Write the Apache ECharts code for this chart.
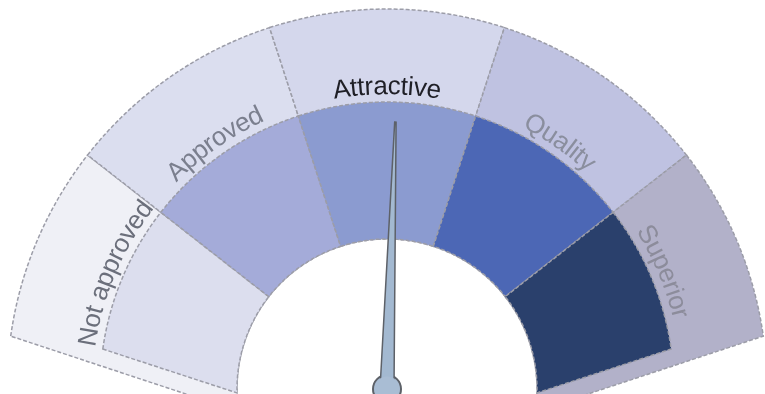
<!DOCTYPE html>
<html>
<head>
<meta charset="utf-8">
<script src="https://cdn.jsdelivr.net/npm/echarts@6/dist/echarts.min.js"></script>
<style>
  html, body { margin: 0; padding: 0; background: #ffffff; }
  #chart { width: 765px; height: 394px; }
</style>
</head>
<body>
<div id="chart"></div>
<script>
// ---- data ----
const categories = ['Not approved', 'Approved', 'Attractive', 'Quality', 'Superior'];
const bandSpans = [30, 34, 36, 34, 30];   // angular extent (deg) of each rating band
const needleValue = [51];                 // needle position on a 0-100 scale
const gaugeMin = 0;
const gaugeMax = 100;

// ---- geometry & styles (not data) ----
const CENTER = [387, 389];
const R_HOLE = 150, R_MID = 287, R_OUT = 380, R_TEXT = 302;
const START_ANGLE = 172;                   // angle of the first band's outer corner
const CAP_SKEW = { outer: 16.6, inner: 9.5 }; // tilt of the end caps (deg, at hole radius)
const outerColors = ['#eff0f6', '#dbdeef', '#d4d7ec', '#bfc2e1', '#b2b1c9'];
const innerColors = ['#dcdeee', '#a4abd9', '#8b9bd0', '#4c67b5', '#2a406c'];
const labelColors = ['#6b6f7b', '#7b7f8e', '#1f1f26', '#8a8e9e', '#8c8c9b'];
const FONT_FAMILY = '"Liberation Sans Narrow", "Liberation Sans", Arial, sans-serif';
const FONT_SIZE = 26;
const FONT = FONT_SIZE + 'px ' + FONT_FAMILY;

// band boundary angles (outer edge), from the spans
const bounds = [START_ANGLE];
bandSpans.forEach((s, i) => bounds.push(bounds[i] - s));

function norm(a) { return ((a % 360) + 360) % 360; }

function bandItems(ringKey, rOut) {
  const skew = CAP_SKEW[ringKey];
  return categories.map((n, i) => {
    const a0 = bounds[i], a1 = bounds[i + 1];
    const a0in = i === 0 ? a0 + skew : a0;
    const a1in = i === categories.length - 1 ? a1 - skew : a1;
    return { name: n, value: [i, a0, a1, a0in, a1in, R_HOLE, rOut] };
  });
}

function renderBand(colors) {
  return function (params, api) {
    const i = api.value(0);
    const a0 = api.value(1), a1 = api.value(2), a0in = api.value(3), a1in = api.value(4);
    const rIn = api.value(5), rOut = api.value(6);
    const pts = [];
    const steps = Math.max(2, Math.ceil(Math.abs(a0 - a1) / 0.5));
    for (let k = 0; k <= steps; k++) {
      const a = a0 + (a1 - a0) * k / steps;
      pts.push(api.coord([rOut, norm(a)]));
    }
    const stepsIn = Math.max(2, Math.ceil(Math.abs(a0in - a1in) / 0.5));
    for (let k = 0; k <= stepsIn; k++) {
      const a = a1in + (a0in - a1in) * k / stepsIn;
      pts.push(api.coord([rIn, norm(a)]));
    }
    return {
      type: 'polygon',
      shape: { points: pts },
      style: { fill: colors[i], stroke: '#9c9da8', lineWidth: 1.5, lineDash: [4, 2] }
    };
  };
}

const measureCtx = document.createElement('canvas').getContext('2d');
measureCtx.font = FONT;

function renderLabel(params, api) {
  const i = api.value(0);
  const mid = (api.value(1) + api.value(2)) / 2;
  const text = categories[i];
  const widths = Array.from(text).map(ch => measureCtx.measureText(ch).width);
  const total = widths.reduce((s, w) => s + w, 0);
  let cum = 0;
  const children = Array.from(text).map((ch, k) => {
    const c = cum + widths[k] / 2;
    cum += widths[k];
    const ang = mid + ((total / 2 - c) / R_TEXT) * 180 / Math.PI;
    const p = api.coord([R_TEXT, norm(ang)]);
    return {
      type: 'text', x: p[0], y: p[1], rotation: (ang - 90) * Math.PI / 180,
      style: { text: ch, fill: labelColors[i], font: FONT, align: 'center', verticalAlign: 'middle' }
    };
  });
  return { type: 'group', children: children };
}

const chart = echarts.init(document.getElementById('chart'), null, { renderer: 'canvas' });
chart.setOption({
  backgroundColor: '#ffffff',
  animation: false,
  polar: { center: CENTER, radius: R_OUT },
  angleAxis: { type: 'value', min: 0, max: 360, startAngle: 0, clockwise: false, show: false },
  radiusAxis: { type: 'value', min: 0, max: R_OUT, show: false },
  series: [
    {
      type: 'custom', coordinateSystem: 'polar', silent: true, z: 2,
      renderItem: renderBand(outerColors),
      data: bandItems('outer', R_OUT)
    },
    {
      type: 'custom', coordinateSystem: 'polar', silent: true, z: 3,
      renderItem: renderBand(innerColors),
      data: bandItems('inner', R_MID)
    },
    {
      type: 'custom', coordinateSystem: 'polar', silent: true, z: 4,
      renderItem: renderLabel,
      data: bandItems('outer', R_OUT)
    },
    {
      type: 'gauge', center: CENTER, radius: 267, z: 10,
      startAngle: 180, endAngle: 0, min: gaugeMin, max: gaugeMax,
      axisLine: { show: false }, splitLine: { show: false }, axisTick: { show: false },
      axisLabel: { show: false }, title: { show: false }, detail: { show: false },
      pointer: {
        show: true, length: '100%', width: 14,
        icon: 'path://M9,0 L11,0 L20,200 L0,200 Z',
        itemStyle: { color: '#a3b9d1', borderColor: '#5d6168', borderWidth: 1.5 }
      },
      anchor: {
        show: true, showAbove: false, size: 28,
        itemStyle: { color: '#a9bdd4', borderColor: '#5d6168', borderWidth: 2 }
      },
      data: needleValue.map(v => ({ value: v }))
    },
    {
      type: 'gauge', center: CENTER, radius: 267, z: 11,
      startAngle: 180, endAngle: 0, min: gaugeMin, max: gaugeMax,
      axisLine: { show: false }, splitLine: { show: false }, axisTick: { show: false },
      axisLabel: { show: false }, title: { show: false }, detail: { show: false },
      pointer: { show: false },
      anchor: {
        show: true, showAbove: true, size: 25,
        itemStyle: { color: '#a9bdd4', borderWidth: 0 }
      },
      data: needleValue.map(v => ({ value: v }))
    }
  ]
});
</script>
</body>
</html>
